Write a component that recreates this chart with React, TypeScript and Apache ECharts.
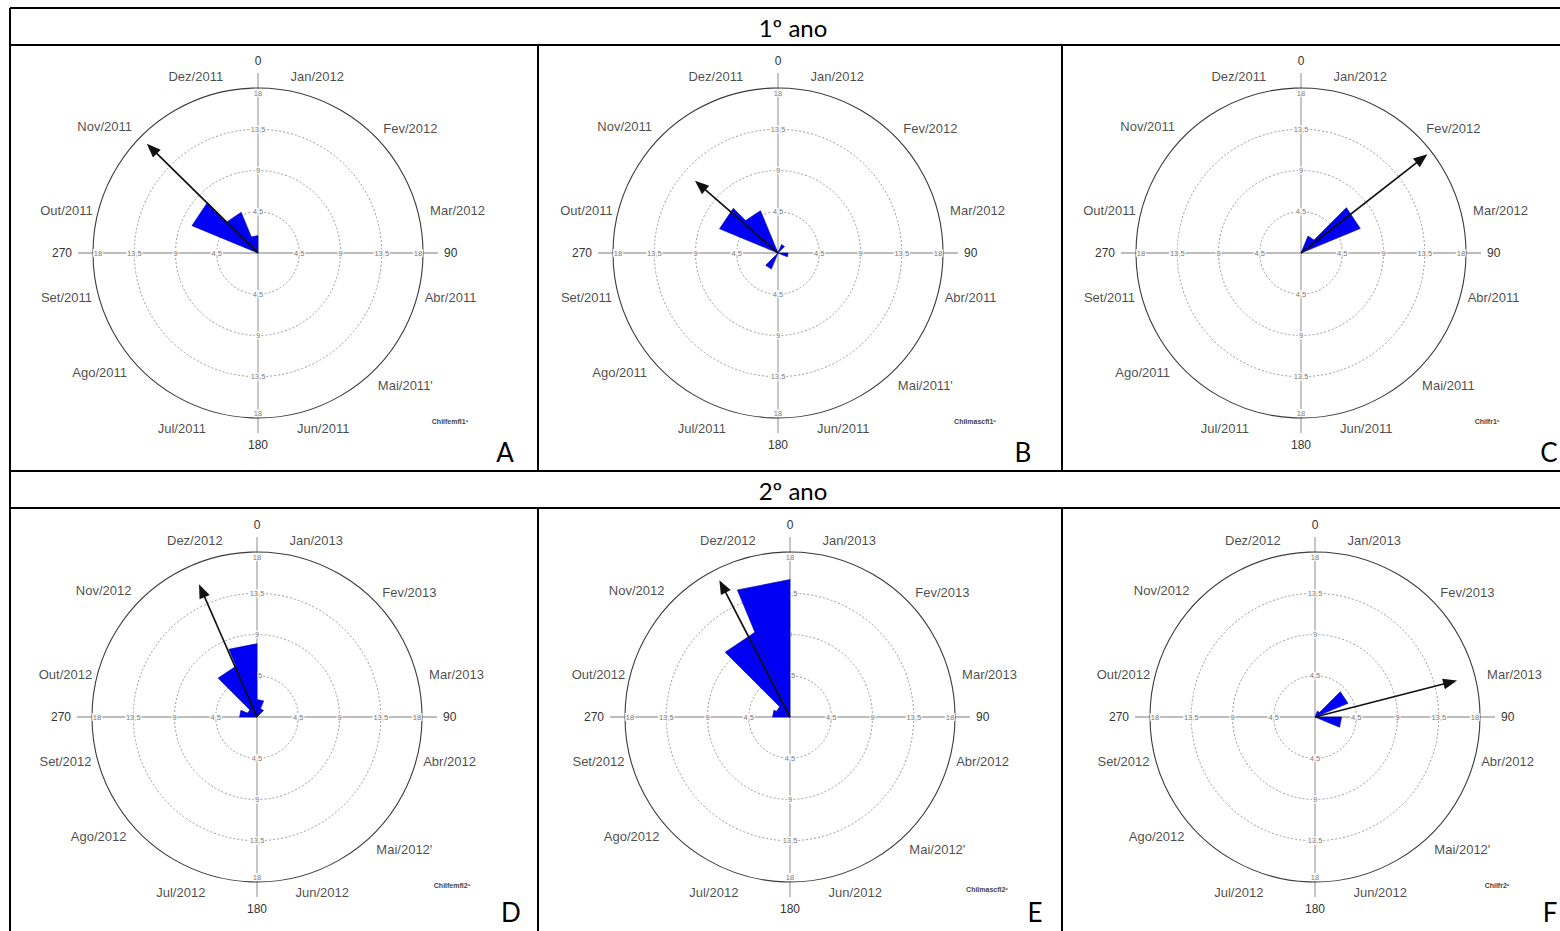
import React, { useEffect, useRef } from 'react';
import * as echarts from 'echarts';

// ---------- data ----------
const monthsYear1 = ['Jan/2012', 'Fev/2012', 'Mar/2012', 'Abr/2011', "Mai/2011'", 'Jun/2011', 'Jul/2011', 'Ago/2011', 'Set/2011', 'Out/2011', 'Nov/2011', 'Dez/2011'];
const monthsYear1C = ['Jan/2012', 'Fev/2012', 'Mar/2012', 'Abr/2011', 'Mai/2011', 'Jun/2011', 'Jul/2011', 'Ago/2011', 'Set/2011', 'Out/2011', 'Nov/2011', 'Dez/2011'];
const monthsYear2 = ['Jan/2013', 'Fev/2013', 'Mar/2013', 'Abr/2012', "Mai/2012'", 'Jun/2012', 'Jul/2012', 'Ago/2012', 'Set/2012', 'Out/2012', 'Nov/2012', 'Dez/2012'];

const compassDirections = [0, 90, 180, 270];
const radialTicks = [4.5, 9, 13.5, 18];
const radialTickLabels = ['4,5', '9', '13,5', '18'];

const binWidth = 22.5; // 16 bins
const roseA = [0, 0, 0, 0, 0, 0, 0, 0, 0, 0, 0, 0, 0, 7.8, 4.8, 1.9];
const roseB = [0, 1.0, 0, 0, 1.1, 0, 0, 0, 0, 1.9, 0, 0, 0, 6.9, 5.0, 0];
const roseC = [0, 2.0, 7.0, 0, 0, 0, 0, 0, 0, 0, 0, 0, 0, 0, 0, 0];
const roseD = [1.9, 1.0, 0, 0, 0, 0, 0, 0, 0, 0, 0, 0, 1.9, 1.1, 6.0, 8.0];
const roseE = [0, 0, 0, 0, 0, 0, 0, 0, 0, 0, 0, 0, 1.9, 1.6, 10.0, 15.0];
const roseF = [0, 0.7, 3.9, 0.5, 2.9, 0, 0, 0, 0, 0, 0, 0, 0, 0, 0, 0];

// mean vector: [direction (deg), length]
const arrowA = [314.5, 17.0];
const arrowB = [311, 12.0];
const arrowC = [52, 17.5];
const arrowD = [336.4, 15.8];
const arrowE = [332.7, 16.8];
const arrowF = [75.6, 16.0];

const panelTags = ['Chilfemfl1º', 'Chilmascfl1º', 'Chilfr1º', 'Chilfemfl2º', 'Chilmascfl2º', 'Chilfr2º'];
const panelLetters = ['A', 'B', 'C', 'D', 'E', 'F'];
const rowHeaders = ['1º ano', '2º ano'];

// ---------- layout / style ----------
const panels = [
  { months: monthsYear1, rose: roseA, arrow: arrowA, cx: 258, cy: 253, tx: 450, ty: 421, lx: 505, ly: 452 },
  { months: monthsYear1, rose: roseB, arrow: arrowB, cx: 778, cy: 253, tx: 975, ty: 421, lx: 1023, ly: 452 },
  { months: monthsYear1C, rose: roseC, arrow: arrowC, cx: 1301, cy: 253, tx: 1487, ty: 421, lx: 1549, ly: 452 },
  { months: monthsYear2, rose: roseD, arrow: arrowD, cx: 257, cy: 717, tx: 452, ty: 885, lx: 511, ly: 912 },
  { months: monthsYear2, rose: roseE, arrow: arrowE, cx: 790, cy: 717, tx: 987, ty: 889, lx: 1035, ly: 912 },
  { months: monthsYear2, rose: roseF, arrow: arrowF, cx: 1315, cy: 717, tx: 1497, ty: 885, lx: 1550, ly: 912 },
];
// pixel nudges of the month labels around their band centre
const monthLabelNudge = [[10, 7], [18, 10], [16, 7], [9, -5], [13, -2], [16, -8], [-27, -8], [-24, -15], [-8, -5], [-8, 7], [-19, 8], [-13, 7]];
const R = 165;
const LABEL_R = 190;
const FONT = 'Liberation Sans, Arial, sans-serif';
const TFONT = 'Lato, "Open Sans", sans-serif';

function buildOption() {
  const polar: any[] = [];
  const angleAxis: any[] = [];
  const radiusAxis: any[] = [];
  const series: any[] = [];

  panels.forEach((p) => {
    const center = [p.cx, p.cy];
    const base = polar.length;
    // cross lines with compass labels
    polar.push({ center, radius: R + 15 });
    angleAxis.push({
      polarIndex: base, type: 'value', min: 0, max: 360, interval: 90, startAngle: 90, clockwise: true,
      axisLine: { show: false }, axisTick: { show: false },
      splitLine: { show: true, lineStyle: { color: '#a8a8a8', width: 1.3 } },
      axisLabel: { show: true, margin: 6, fontSize: 12, color: '#333', fontFamily: FONT, formatter: (v: number) => (v >= 360 ? '' : String(v)) },
    });
    radiusAxis.push({ polarIndex: base, type: 'value', min: 0, max: 18, show: false });

    // main polar
    polar.push({ center, radius: R });
    angleAxis.push({
      polarIndex: base + 1, type: 'value', min: 0, max: 360, startAngle: 90, clockwise: true,
      axisLine: { show: true, lineStyle: { color: '#3a3a3a', width: 1.1 } },
      axisTick: { show: false }, axisLabel: { show: false }, splitLine: { show: false },
    });
    radiusAxis.push({
      polarIndex: base + 1, type: 'value', min: 0, max: 18, interval: 4.5,
      axisLine: { show: false }, axisTick: { show: false }, axisLabel: { show: false },
      splitLine: { show: true, lineStyle: { color: ['#9a9a9a', '#9a9a9a', '#9a9a9a', '#9a9a9a', 'rgba(0,0,0,0)'], type: [2, 2], width: 1 } },
    });

    // month label ring
    polar.push({ center, radius: LABEL_R });
    angleAxis.push({
      polarIndex: base + 2, type: 'category', data: p.months, startAngle: 90, clockwise: true, boundaryGap: true, show: false,
    });
    radiusAxis.push({ polarIndex: base + 2, type: 'value', min: 0, max: 1, show: false });
    series.push({
      type: 'scatter', coordinateSystem: 'polar', polarIndex: base + 2, z: 3, silent: true,
      symbolSize: 1, itemStyle: { color: 'rgba(0,0,0,0)' },
      data: p.months.map((m, k) => ({ name: m, value: [1, m], label: { offset: monthLabelNudge[k] } })),
      label: { show: true, position: 'inside', formatter: '{b}', fontSize: 13, color: '#1a1a1a', fontFamily: FONT, align: 'center', verticalAlign: 'middle' },
    });

    // radial tick labels
    const tickData: any[] = [];
    compassDirections.forEach((a) =>
      radialTicks.forEach((r, j) => {
        const inward = j === radialTicks.length - 1 ? 5 : 0;
        const off = a === 0 ? [0, inward] : a === 90 ? [-inward, 0] : a === 180 ? [0, -inward] : [inward, 0];
        tickData.push({ name: radialTickLabels[j], value: [r, a], label: { offset: off } });
      })
    );
    series.push({
      type: 'scatter', coordinateSystem: 'polar', polarIndex: base + 1, z: 3, silent: true,
      symbolSize: 1, itemStyle: { color: 'rgba(0,0,0,0)' }, data: tickData,
      label: { show: true, position: 'inside', formatter: '{b}', fontSize: 7.5, color: '#555', fontFamily: FONT, backgroundColor: '#fff', padding: [0, 1] },
    });

    // rose wedges
    series.push({
      type: 'custom', coordinateSystem: 'polar', polarIndex: base + 1, z: 4, silent: true,
      data: p.rose.map((v, k) => [v, k * binWidth, (k + 1) * binWidth]).filter((d) => d[0] > 0),
      renderItem: (params: any, api: any) => {
        const r = api.value(0);
        const a0 = api.value(1);
        const a1 = api.value(2);
        const c = api.coord([0, a0]);
        const p0 = api.coord([r, a0]);
        const p1 = api.coord([r, a1]);
        return { type: 'polygon', shape: { points: [c, p0, p1] }, style: { fill: '#0000f5', stroke: '#0000a0', lineWidth: 0.6 } };
      },
    });

    // mean vector arrow
    series.push({
      type: 'custom', coordinateSystem: 'polar', polarIndex: base + 1, z: 5, silent: true,
      data: [[p.arrow[1], p.arrow[0]]],
      renderItem: (params: any, api: any) => {
        const len = api.value(0);
        const ang = api.value(1);
        const c = api.coord([0, ang]);
        const t = api.coord([len, ang]);
        const dx = t[0] - c[0];
        const dy = t[1] - c[1];
        const L = Math.hypot(dx, dy) || 1;
        const ux = dx / L;
        const uy = dy / L;
        const hl = 14;
        const hw = 5.5;
        const b = [t[0] - ux * hl, t[1] - uy * hl];
        return {
          type: 'group',
          children: [
            { type: 'line', shape: { x1: c[0], y1: c[1], x2: b[0] + ux * 2, y2: b[1] + uy * 2 }, style: { stroke: '#111', lineWidth: 1.7 } },
            { type: 'polygon', shape: { points: [t, [b[0] - uy * hw, b[1] + ux * hw], [b[0] + uy * hw, b[1] - ux * hw]] }, style: { fill: '#111' } },
          ],
        };
      },
    });
  });

  const lineStyle = { stroke: '#000', lineWidth: 2 };
  const graphic: any[] = [
    { type: 'line', shape: { x1: 10, y1: 8, x2: 1560, y2: 8 }, style: lineStyle },
    { type: 'line', shape: { x1: 10, y1: 45, x2: 1560, y2: 45 }, style: lineStyle },
    { type: 'line', shape: { x1: 10, y1: 471, x2: 1560, y2: 471 }, style: lineStyle },
    { type: 'line', shape: { x1: 10, y1: 508, x2: 1560, y2: 508 }, style: lineStyle },
    { type: 'line', shape: { x1: 10, y1: 8, x2: 10, y2: 931 }, style: lineStyle },
    { type: 'line', shape: { x1: 538, y1: 45, x2: 538, y2: 471 }, style: lineStyle },
    { type: 'line', shape: { x1: 1062, y1: 45, x2: 1062, y2: 471 }, style: lineStyle },
    { type: 'line', shape: { x1: 538, y1: 508, x2: 538, y2: 931 }, style: lineStyle },
    { type: 'line', shape: { x1: 1062, y1: 508, x2: 1062, y2: 931 }, style: lineStyle },
    { type: 'text', x: 793, y: 27, style: { text: rowHeaders[0], font: `24px ${TFONT}`, fill: '#000', textAlign: 'center', textVerticalAlign: 'middle' } },
    { type: 'text', x: 793, y: 490, style: { text: rowHeaders[1], font: `24px ${TFONT}`, fill: '#000', textAlign: 'center', textVerticalAlign: 'middle' } },
  ];
  panels.forEach((p, i) => {
    graphic.push({ type: 'text', x: p.tx, y: p.ty, style: { text: panelTags[i], font: `bold 7px ${FONT}`, fill: '#444', textAlign: 'center', textVerticalAlign: 'middle' } });
    graphic.push({ type: 'text', x: p.lx, y: p.ly, style: { text: panelLetters[i], font: `26px ${TFONT}`, fill: '#000', textAlign: 'center', textVerticalAlign: 'middle' } });
  });

  return { animation: false, backgroundColor: '#fff', polar, angleAxis, radiusAxis, series, graphic };
}

export default function App() {
  const ref = useRef<HTMLDivElement>(null);
  useEffect(() => {
    if (!ref.current) return;
    const chart = echarts.init(ref.current, null, { renderer: 'svg' });
    chart.setOption(buildOption() as any);
    return () => chart.dispose();
  }, []);
  return <div ref={ref} style={{ position: 'fixed', left: 0, top: 0, width: 1560, height: 931, background: '#fff' }} />;
}
